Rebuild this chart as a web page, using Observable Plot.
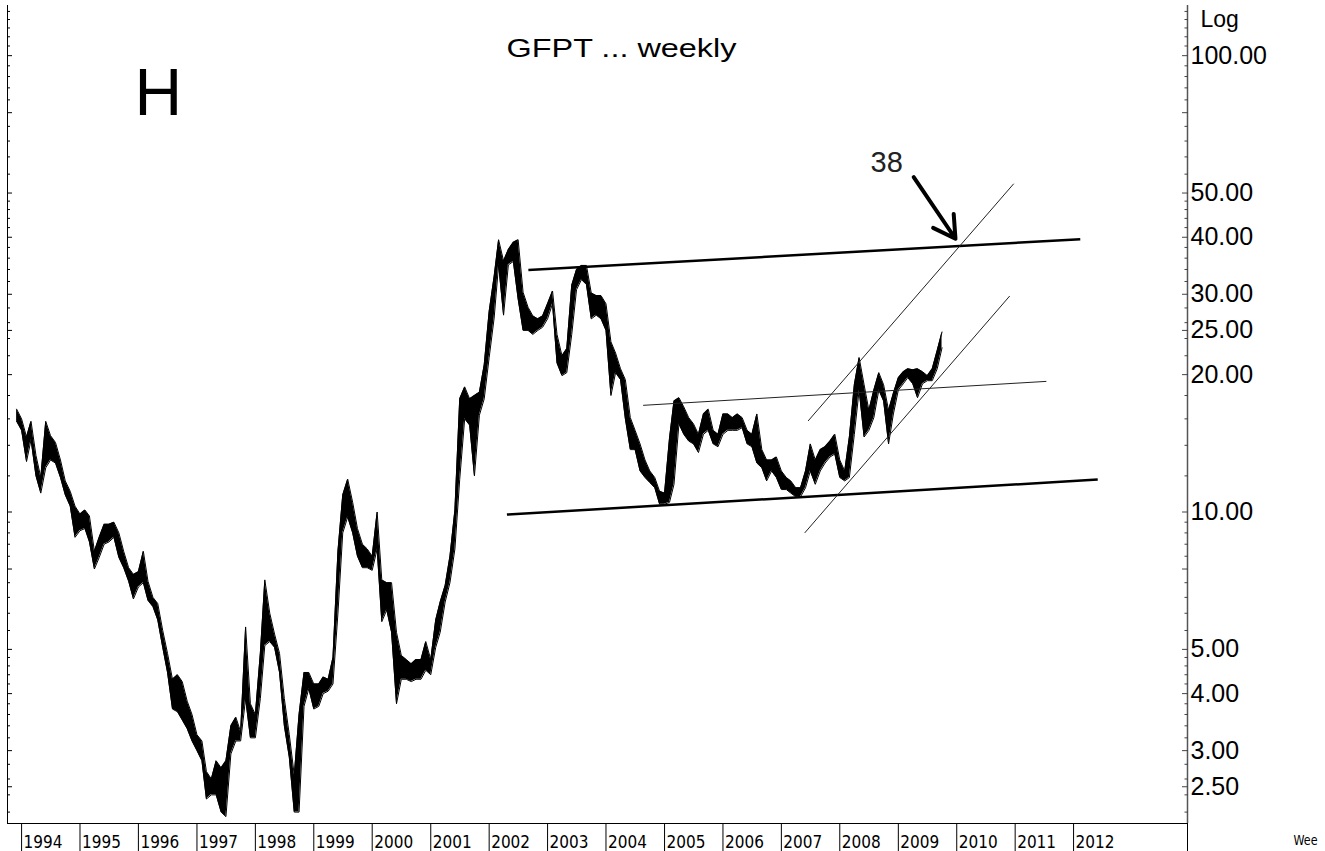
<!DOCTYPE html>
<html><head><meta charset="utf-8">
<script src="https://cdn.jsdelivr.net/npm/d3@7"></script>
<script src="https://cdn.jsdelivr.net/npm/@observablehq/plot@0.6"></script>
<style>
html,body{margin:0;padding:0;background:#fff;}
#chart{position:relative;width:1325px;height:851px;overflow:hidden;}
</style></head><body><div id="chart"></div>
<script>
// ---- data (monthly high / low) ----
const startMonth = "1993-12-01";
const highs = [16.8,
 16.0,14.6,15.8,13.3,11.9,15.8,14.7,14.2,13.0,11.7,11.1,10.3,
 9.9,10.1,9.8,8.2,8.8,9.4,9.4,9.5,9.0,8.2,7.55,7.3,
 7.4,8.2,7.05,6.5,6.3,5.5,4.9,4.3,4.4,4.25,3.85,3.6,
 3.25,3.15,2.7,2.6,2.85,2.75,2.85,3.4,3.55,3.3,5.6,3.8,
 3.6,4.9,7.1,6.0,5.4,4.9,3.9,3.25,2.65,3.6,4.45,4.45,
 4.2,4.2,4.35,4.3,4.8,8.2,10.9,11.8,10.5,9.2,8.5,8.3,
 8.0,10.0,7.1,7.0,7.0,5.45,4.85,4.75,4.65,4.75,4.75,5.2,
 4.75,5.8,6.35,6.9,8.0,10.1,17.7,18.8,17.7,18.0,18.3,21,
 27.5,32.8,39.5,35.5,37.6,39,39.5,30.3,28.1,26.9,26.5,26.9,
 28.6,30.5,24.5,22,22.8,31.4,34,34.7,34.7,30.2,29.8,29.8,
 28.6,23.6,22.3,20.6,19.5,16.1,15.1,14.1,13.0,12.3,11.9,11.1,
 11.0,14.5,17.5,17.8,17.0,16.1,15.6,14.8,16.4,16.8,15.1,14.8,
 16.4,16.4,16.1,16.4,16.1,15.1,14.8,16.4,13.7,13.0,13.0,13.2,
 12.3,11.9,11.7,11.3,11.3,12.3,14.1,13.0,13.7,13.9,14.3,14.8,
 13.0,12.3,14.6,19.0,21.8,19.0,16.7,18.5,20.2,19.0,16.7,18.2,
 19.7,20.3,20.6,20.5,20.6,20.3,19.9,20.6,22.6,24.8];
const lows = [15.8,
 15.1,12.9,14.4,12.0,11.0,12.5,13.0,12.8,11.9,10.9,10.3,8.8,
 9.1,9.2,8.6,7.5,7.95,8.5,8.6,8.8,7.95,7.55,7.05,6.45,
 6.85,7.0,6.4,6.2,5.8,5.05,4.45,3.7,3.65,3.5,3.35,3.15,
 3.0,2.85,2.35,2.4,2.4,2.2,2.15,2.95,3.15,3.15,3.9,3.2,
 3.2,3.9,5.1,5.2,5.05,4.45,3.4,2.9,2.2,2.2,3.75,4.1,
 3.7,3.75,4.0,4.05,4.2,6.0,9.0,9.75,9.0,8.0,7.55,7.55,
 7.45,8.3,5.75,6.1,5.45,3.8,4.3,4.3,4.25,4.3,4.3,4.5,
 4.4,5.05,5.45,6.35,7.0,8.3,11.8,16.0,15.5,12.0,16.3,17.7,
 21.8,26.6,34.8,27,34.8,35.4,29.3,25.0,25,24.5,25,25.4,
 26.5,28.6,21.2,19.9,20.2,24.5,30.7,32.3,31.5,26.5,27,26.5,
 25,18,20.2,19.5,16,13.7,13.7,12.3,11.9,11.6,11.3,10.4,
 10.4,10.5,11.5,15.6,14.8,14.3,14.1,13.5,14.8,15.1,14.1,13.9,
 14.8,15.1,15.1,15.1,15.3,14.1,13.9,12.8,12.5,11.7,12.3,11.9,
 11.2,11.2,11.0,10.8,10.8,11.3,12.3,11.5,12.3,12.8,13.2,13.4,
 11.9,11.7,11.9,14.8,18.5,14.6,15.1,16.1,18.5,17.5,14.1,16.4,
 18.5,19.1,19.7,19.1,17.8,19.1,19.4,19.4,20.6,22.9];
const years = [1994,1995,1996,1997,1998,1999,2000,2001,2002,2003,2004,2005,2006,2007,2008,2009,2010,2011,2012];
const majorTicks = [2.5,3,4,5,7.5,10,20,25,30,40,50,75,100];
const minorTicks = [2.2,2.4,2.6,2.8,3.2,3.4,3.6,3.8,4.2,4.4,4.6,4.8,5.5,6,6.5,7,8,8.5,9,9.5,
  12,14,16,18,22,24,26,28,32,34,36,38,42,44,46,48,55,60,65,70,80,85,90,95,105,110,115,120,125];
const thickLines = [
  {d1:"2002-09-03", v1:33.9, d2:"2012-02-12", v2:39.6},
  {d1:"2002-04-22", v1:9.87, d2:"2012-05-31", v2:11.78}
];
const thinLines = [
  {d1:"2004-08-20", v1:17.13, d2:"2011-07-15", v2:19.33},
  {d1:"2007-06-17", v1:15.83, d2:"2010-12-23", v2:52.4},
  {d1:"2007-05-27", v1:9.0, d2:"2010-11-28", v2:29.74}
];
const arrows = [{d1:"2009-04-07", v1:54.2, d2:"2009-12-24", v2:39.7}];
const targetNote = [{label:"38", date:"2008-10-20", value:58.3}];
const waveNote = [{label:"H", date:"1996-05-05", value:82.6}];
const title = "GFPT ... weekly";
const yLabel = "Log";
const xLabel = "Wee";
const xDomain = ["1993-10-05","2013-12-13"];
const yDomain = [2.077, 128.8];

// ---- build ----
const series = highs.map((h, i) => ({date: d3.utcMonth.offset(new Date(startMonth), i), high: h, low: lows[i]}));
const yearDates = years.map(y => new Date(Date.UTC(y, 0, 1)));
const xd = xDomain.map(s => new Date(s));
const separators = [...yearDates, xd[1]];
const D = s => new Date(s);
const FONT = "Liberation Sans, Arial, Helvetica, sans-serif";
const NARROW = "DejaVu Sans Condensed, DejaVu Sans, sans-serif";

const chart = Plot.plot({
  width: 1325, height: 851,
  marginLeft: 7, marginRight: 138, marginTop: 5, marginBottom: 28,
  style: {background: "#fff", fontFamily: FONT, color: "#000", overflow: "visible"},
  x: {type: "utc", domain: xd, axis: null},
  y: {type: "log", domain: yDomain, axis: null},
  marks: [
    // frame lines
    Plot.ruleY([yDomain[0]], {stroke: "#000", strokeWidth: 1}),
    Plot.ruleX([xd[0]], {stroke: "#000", strokeWidth: 1}),
    Plot.ruleX([xd[1]], {stroke: "#555", strokeWidth: 1.5}),
    // right axis ticks (inward)
    Plot.axisY({anchor: "right", ticks: minorTicks, tickSize: 3.5, dx: -3.5, fill: "none", stroke: "#444", label: null}),
    Plot.axisY({anchor: "right", ticks: majorTicks, tickSize: 6, dx: -6, fill: "none", stroke: "#444", label: null}),
    Plot.axisY({anchor: "right", ticks: majorTicks, tickSize: 0, tickPadding: 3, tickFormat: d3.format(".2f"),
      fontSize: 25, fill: "#000", fontFamily: FONT, label: null}),
    // left axis ticks (inward)
    Plot.axisY({anchor: "left", ticks: minorTicks, tickSize: 3, dx: 3, fill: "none", stroke: "#000", label: null}),
    Plot.axisY({anchor: "left", ticks: majorTicks, tickSize: 5, dx: 5, fill: "none", stroke: "#000", label: null}),
    // bottom year separators + labels
    Plot.axisX({anchor: "bottom", ticks: separators, tickSize: 28, fill: "none", stroke: "#000", label: null}),
    Plot.axisX({anchor: "bottom", ticks: yearDates, tickSize: 0, tickPadding: 12, tickFormat: "%Y",
      textAnchor: "start", dx: 2, fontSize: 17, fill: "#000", fontFamily: NARROW, label: null}),
    // price
    Plot.areaY(series, {x: "date", y1: "low", y2: "high", fill: "#000"}),
    Plot.line(series, {x: "date", y: "high", stroke: "#000", strokeWidth: 1}),
    Plot.line(series, {x: "date", y: "low", stroke: "#000", strokeWidth: 1}),
    // trend lines
    Plot.link(thickLines, {x1: d => D(d.d1), y1: "v1", x2: d => D(d.d2), y2: "v2", stroke: "#000", strokeWidth: 2.5}),
    Plot.link(thinLines, {x1: d => D(d.d1), y1: "v1", x2: d => D(d.d2), y2: "v2", stroke: "#222", strokeWidth: 1}),
    Plot.arrow(arrows, {x1: d => D(d.d1), y1: "v1", x2: d => D(d.d2), y2: "v2", stroke: "#000", strokeWidth: 4, headLength: 24}),
    // annotations
    Plot.text(targetNote, {x: d => D(d.date), y: "value", text: "label", fontSize: 29, fill: "#222"}),
    Plot.text(waveNote, {x: d => D(d.date), y: "value", text: "label", fontSize: 66, fill: "#000"}),
    Plot.text([title], {frameAnchor: "top", lineAnchor: "middle", dx: 24, dy: 43.5, fontSize: 26, fill: "#000"}),
    Plot.text([yLabel], {frameAnchor: "top-right", lineAnchor: "middle", dx: 13, dy: 14, textAnchor: "start", fontSize: 23, fill: "#000"}),
    Plot.text([xLabel], {frameAnchor: "bottom-right", lineAnchor: "middle", dx: 106, dy: 17, textAnchor: "start", fontSize: 14, fill: "#000",
      fontFamily: NARROW})
  ]
});
document.getElementById("chart").appendChild(chart);
// stretch / fit texts horizontally as in the reference
const fit = (txt, len) => d3.select(chart).selectAll("text").filter(function() { return this.textContent === txt; })
  .attr("textLength", len).attr("lengthAdjust", "spacingAndGlyphs");
fit(title, 230);
fit(xLabel, 24);
</script>
</body></html>
